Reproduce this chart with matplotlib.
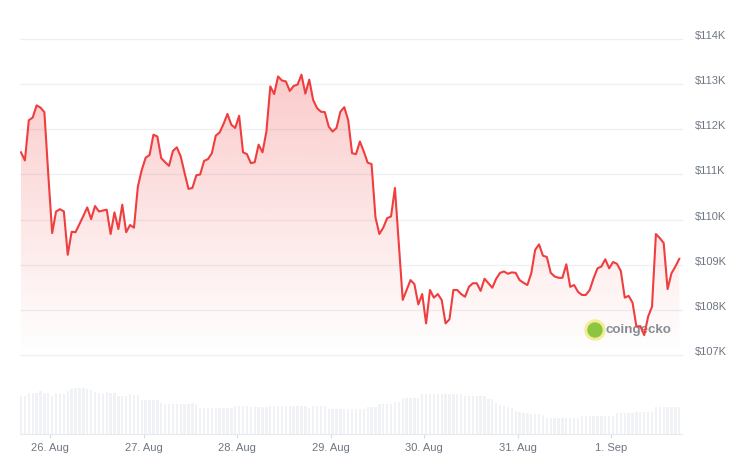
import numpy as np
import pandas as pd
import matplotlib
matplotlib.use("Agg")
import matplotlib.pyplot as plt
import matplotlib.dates as mdates
import matplotlib.transforms as mtransforms
from matplotlib.patches import Ellipse

plt.rcParams['font.family'] = ['Liberation Sans', 'DejaVu Sans']

# hourly BTC price in thousands of USD
prices = [111.49, 111.31, 112.20, 112.26, 112.53, 112.48, 112.38, 111.00, 109.70, 110.18,
          110.23, 110.18, 109.22, 109.73, 109.72, 109.90, 110.08, 110.27, 110.01, 110.30,
          110.18, 110.20, 110.22, 109.68, 110.16, 109.79, 110.33, 109.72, 109.88, 109.82,
          110.73, 111.10, 111.37, 111.43, 111.88, 111.84, 111.36, 111.27, 111.19, 111.52,
          111.60, 111.40, 111.03, 110.68, 110.70, 110.98, 111.00, 111.30, 111.34, 111.47,
          111.86, 111.93, 112.12, 112.34, 112.10, 112.03, 112.30, 111.49, 111.45, 111.25,
          111.27, 111.66, 111.49, 111.95, 112.95, 112.78, 113.17, 113.08, 113.06, 112.85,
          112.96, 112.99, 113.21, 112.79, 113.10, 112.65, 112.47, 112.39, 112.38, 112.06,
          111.95, 112.03, 112.39, 112.49, 112.20, 111.47, 111.45, 111.73, 111.51, 111.26,
          111.23, 110.05, 109.68, 109.82, 110.03, 110.07, 110.70, 109.45, 108.22, 108.44,
          108.66, 108.57, 108.12, 108.35, 107.70, 108.44, 108.27, 108.35, 108.22, 107.70,
          107.79, 108.44, 108.44, 108.35, 108.29, 108.51, 108.59, 108.59, 108.42, 108.69,
          108.59, 108.49, 108.69, 108.82, 108.85, 108.80, 108.83, 108.82, 108.66, 108.60,
          108.55, 108.81, 109.33, 109.45, 109.20, 109.17, 108.82, 108.74, 108.71, 108.71,
          109.01, 108.51, 108.55, 108.40, 108.33, 108.33, 108.44, 108.70, 108.92, 108.96,
          109.12, 108.92, 109.06, 109.02, 108.86, 108.27, 108.31, 108.16, 107.63, 107.64,
          107.44, 107.85, 108.07, 109.68, 109.59, 109.48, 108.46, 108.81, 108.96, 109.13]

# 24h volume, billions USD
volumes = [38, 38, 41, 41, 41, 43, 41, 41, 38, 41,
           40, 40, 43, 45, 46, 46, 46, 45, 44, 42,
           41, 41, 42, 41, 41, 38, 38, 38, 40, 39,
           39, 34, 34, 34, 34, 34, 31, 30, 30, 30,
           30, 30, 30, 30, 31, 30, 26, 26, 26, 26,
           26, 26, 26, 26, 26, 28, 28, 28, 28, 27,
           27, 27, 27, 27, 28, 28, 28, 28, 28, 28,
           28, 28, 28, 28, 26, 28, 28, 28, 28, 25,
           25, 25, 25, 25, 25, 25, 25, 25, 25, 27,
           27, 27, 30, 30, 30, 30, 32, 32, 36, 36,
           36, 36, 36, 40, 40, 40, 40, 40, 40, 40,
           40, 40, 40, 40, 38, 38, 38, 38, 38, 38,
           35, 35, 31, 29, 28, 27, 26, 23, 22, 21,
           21, 20, 20, 20, 19, 16, 16, 16, 16, 16,
           16, 16, 16, 16, 18, 18, 18, 18, 18, 18,
           18, 18, 18, 21, 21, 21, 21, 21, 22, 22,
           22, 22, 22, 27, 27, 27, 27, 27, 27, 27]

times = pd.date_range("2025-08-25 16:30", periods=len(prices), freq="h")
y_ticks = [107, 108, 109, 110, 111, 112, 113, 114]
y_labels = ["$107K", "$108K", "$109K", "$110K", "$111K", "$112K", "$113K", "$114K"]
x_ticks = pd.date_range("2025-08-26", "2025-09-01", freq="D")
x_labels = ["26. Aug", "27. Aug", "28. Aug", "29. Aug", "30. Aug", "31. Aug", "1. Sep"]

W, H = 740, 468
fig = plt.figure(figsize=(W / 100, H / 100), dpi=100)
ax = fig.add_axes([20 / W, (H - 355) / H, 662 / W, 316 / H])
axv = fig.add_axes([20 / W, (H - 434) / H, 662 / W, 47 / H])

x = mdates.date2num(times)
xlim = (x[0] - 0.26 / 24, x[0] + 169.7 / 24)

# price area with vertical gradient
poly = ax.fill_between(x, prices, 107, color='none', lw=0)
grad = np.zeros((256, 1, 4))
grad[:, 0, 0] = 240 / 255
grad[:, 0, 1] = 60 / 255
grad[:, 0, 2] = 60 / 255
grad[:, 0, 3] = np.linspace(0.30, 0.0, 256)
img = ax.imshow(grad, extent=[xlim[0], xlim[1], 107, 114], aspect='auto', origin='upper', zorder=1)
img.set_clip_path(poly.get_paths()[0], transform=ax.transData)
ax.plot(x, prices, color='#f03e3e', lw=1.5, solid_joinstyle='round', zorder=3)

ax.set_xlim(xlim)
ax.set_ylim(107, 114)
ax.set_yticks(y_ticks)
ax.set_yticklabels(y_labels)
ax.set_xticks([])
ax.yaxis.tick_right()
ax.tick_params(axis='y', length=0, pad=9.4, labelsize=8, labelcolor='#6f7782')
ax.grid(axis='y', color='#eef0f3', lw=1)
ax.set_axisbelow(True)
for gl in ax.get_ygridlines():
    gl.set_clip_on(False)
offset = mtransforms.ScaledTranslation(0, 0.04, fig.dpi_scale_trans)
for lab in ax.get_yticklabels():
    lab.set_transform(lab.get_transform() + offset)
for s in ax.spines.values():
    s.set_visible(False)

# watermark, under the price line
ax.add_patch(Ellipse((595 / W, (H - 330) / H), 20 / W, 20 / H, transform=fig.transFigure,
                     color='#f5ec9a', zorder=2, clip_on=False))
ax.add_patch(Ellipse((595 / W, (H - 330) / H), 14 / W, 14 / H, transform=fig.transFigure,
                     color='#8cc63f', zorder=2, clip_on=False))
ax.text(606 / W, (H - 330) / H, "coingecko", transform=fig.transFigure, fontsize=9.6,
        fontweight='bold', color='#878c94', va='center', ha='left', zorder=2)

# volume bars
axv.bar(x, volumes, width=0.6 / 24, color='#f0f2f5', lw=0)
axv.set_xlim(xlim)
axv.set_ylim(0, 47)
axv.set_yticks([])
axv.set_xticks(mdates.date2num(x_ticks))
axv.set_xticklabels(x_labels)
axv.tick_params(axis='x', length=3, color='#d8dce2', labelsize=8, labelcolor='#6f7782', pad=3.2)
for s in ['top', 'left', 'right']:
    axv.spines[s].set_visible(False)
axv.spines['bottom'].set_color('#e6e9ed')
axv.patch.set_alpha(0)

fig.savefig("out.png", dpi=100)
